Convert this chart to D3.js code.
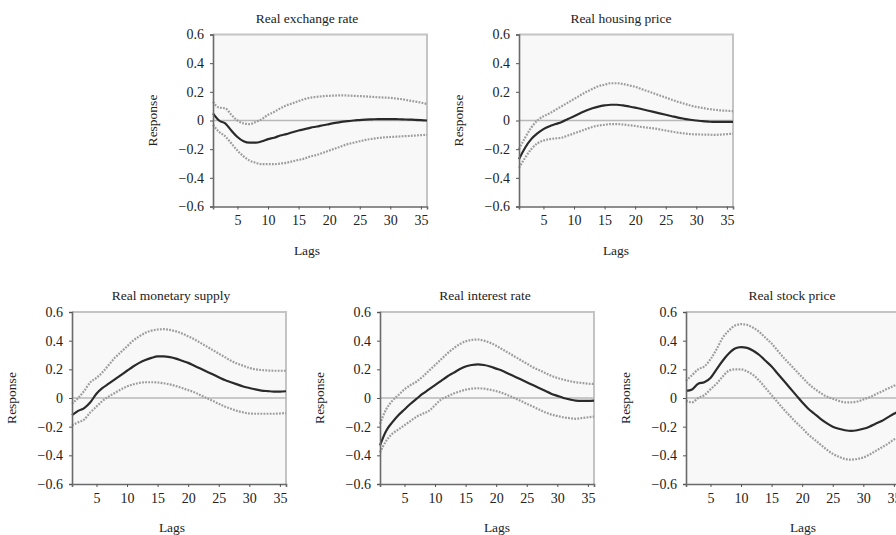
<!DOCTYPE html>
<html>
<head>
<meta charset="utf-8">
<script src="https://cdn.jsdelivr.net/npm/d3@7"></script>
<style>
  body { margin: 0; background: #fff; }
  svg text { font-family: "Liberation Serif", "Times New Roman", Times, serif !important; fill: #222; }
</style>
</head>
<body>
<svg id="chart" width="896" height="535"></svg>
<script>
// impulse responses, lags 1..36
var lags = d3.range(1, 37);
var xTicks = [5, 10, 15, 20, 25, 30, 35];
var yTicks = [0.6, 0.4, 0.2, 0, -0.2, -0.4, -0.6];
var titles = ["Real exchange rate", "Real housing price", "Real monetary supply", "Real interest rate", "Real stock price"];

var exchangeResp = [0.05, 0.0, -0.02, -0.07, -0.115, -0.145, -0.155, -0.155, -0.145, -0.13, -0.12, -0.105, -0.095, -0.082, -0.07, -0.06, -0.05, -0.042, -0.033, -0.025, -0.017, -0.01, -0.005, 0.0, 0.003, 0.006, 0.008, 0.01, 0.01, 0.01, 0.009, 0.008, 0.006, 0.005, 0.003, 0.0];
var exchangeUp = [0.13, 0.09, 0.085, 0.04, 0.0, -0.02, -0.025, -0.01, 0.01, 0.04, 0.06, 0.085, 0.105, 0.12, 0.135, 0.15, 0.16, 0.165, 0.17, 0.172, 0.174, 0.175, 0.174, 0.172, 0.17, 0.168, 0.165, 0.162, 0.16, 0.158, 0.153, 0.148, 0.14, 0.133, 0.125, 0.115];
var exchangeLo = [-0.03, -0.08, -0.11, -0.16, -0.21, -0.25, -0.28, -0.295, -0.305, -0.305, -0.305, -0.3, -0.295, -0.285, -0.275, -0.265, -0.25, -0.24, -0.225, -0.21, -0.195, -0.18, -0.165, -0.155, -0.145, -0.135, -0.128, -0.122, -0.118, -0.115, -0.113, -0.11, -0.108, -0.105, -0.102, -0.1];

var housingResp = [-0.27, -0.19, -0.13, -0.09, -0.06, -0.04, -0.025, -0.01, 0.01, 0.03, 0.05, 0.07, 0.085, 0.097, 0.105, 0.11, 0.11, 0.105, 0.098, 0.09, 0.08, 0.07, 0.06, 0.05, 0.04, 0.03, 0.02, 0.012, 0.005, 0.0, -0.005, -0.008, -0.01, -0.01, -0.01, -0.01];
var housingUp = [-0.2, -0.12, -0.05, 0.0, 0.03, 0.05, 0.075, 0.1, 0.125, 0.15, 0.175, 0.2, 0.22, 0.24, 0.25, 0.26, 0.26, 0.255, 0.245, 0.235, 0.22, 0.205, 0.19, 0.175, 0.16, 0.145, 0.13, 0.118, 0.105, 0.095, 0.088, 0.08, 0.075, 0.07, 0.068, 0.065];
var housingLo = [-0.33, -0.26, -0.2, -0.16, -0.14, -0.13, -0.125, -0.12, -0.105, -0.09, -0.075, -0.06, -0.045, -0.035, -0.03, -0.025, -0.025, -0.028, -0.033, -0.038, -0.045, -0.05, -0.055, -0.062, -0.07, -0.078, -0.085, -0.09, -0.095, -0.097, -0.098, -0.099, -0.1, -0.098, -0.095, -0.092];

var moneyResp = [-0.12, -0.09, -0.07, -0.03, 0.03, 0.07, 0.1, 0.13, 0.16, 0.19, 0.22, 0.245, 0.265, 0.28, 0.29, 0.29, 0.285, 0.275, 0.26, 0.245, 0.225, 0.205, 0.185, 0.165, 0.145, 0.125, 0.11, 0.095, 0.08, 0.07, 0.06, 0.052, 0.048, 0.045, 0.045, 0.047];
var moneyUp = [-0.04, 0.0, 0.05, 0.11, 0.14, 0.18, 0.23, 0.28, 0.32, 0.36, 0.4, 0.43, 0.455, 0.47, 0.478, 0.48, 0.475, 0.465, 0.45, 0.43, 0.41, 0.385, 0.36, 0.335, 0.31, 0.285, 0.26, 0.24, 0.225, 0.21, 0.2, 0.195, 0.192, 0.19, 0.19, 0.19];
var moneyLo = [-0.19, -0.17, -0.15, -0.1, -0.06, -0.02, 0.01, 0.035, 0.06, 0.08, 0.095, 0.105, 0.11, 0.11, 0.108, 0.103, 0.095, 0.083, 0.07, 0.055, 0.04, 0.02, 0.0, -0.02, -0.04, -0.06, -0.075, -0.09, -0.1, -0.108, -0.11, -0.11, -0.11, -0.11, -0.108, -0.105];

var interestResp = [-0.33, -0.23, -0.17, -0.12, -0.08, -0.04, -0.005, 0.03, 0.06, 0.09, 0.12, 0.15, 0.175, 0.2, 0.22, 0.23, 0.235, 0.23, 0.22, 0.205, 0.19, 0.17, 0.15, 0.13, 0.11, 0.09, 0.07, 0.05, 0.03, 0.015, 0.0, -0.01, -0.018, -0.02, -0.02, -0.018];
var interestUp = [-0.18, -0.08, -0.02, 0.02, 0.06, 0.09, 0.115, 0.15, 0.19, 0.23, 0.27, 0.31, 0.345, 0.375, 0.395, 0.405, 0.408, 0.4, 0.385, 0.365, 0.34, 0.315, 0.29, 0.265, 0.24, 0.215, 0.195, 0.175, 0.155, 0.14, 0.128, 0.118, 0.11, 0.105, 0.1, 0.098];
var interestLo = [-0.38, -0.3, -0.25, -0.22, -0.19, -0.16, -0.13, -0.11, -0.09, -0.05, -0.01, 0.01, 0.03, 0.045, 0.058, 0.065, 0.068, 0.065, 0.058, 0.048, 0.035, 0.018, 0.0, -0.02, -0.04, -0.06, -0.08, -0.1, -0.115, -0.125, -0.135, -0.14, -0.145, -0.14, -0.135, -0.13];

var stockResp = [0.05, 0.06, 0.1, 0.11, 0.14, 0.2, 0.26, 0.31, 0.345, 0.355, 0.35, 0.33, 0.3, 0.26, 0.22, 0.17, 0.12, 0.07, 0.02, -0.03, -0.075, -0.11, -0.145, -0.175, -0.2, -0.215, -0.225, -0.23, -0.225, -0.215, -0.2, -0.18, -0.16, -0.135, -0.11, -0.09];
var stockUp = [0.12, 0.16, 0.2, 0.22, 0.27, 0.34, 0.42, 0.47, 0.505, 0.515, 0.51, 0.49, 0.46, 0.42, 0.38, 0.33, 0.28, 0.235, 0.19, 0.145, 0.1, 0.065, 0.035, 0.01, -0.005, -0.02, -0.03, -0.03, -0.025, -0.01, 0.005, 0.025, 0.045, 0.065, 0.085, 0.1];
var stockLo = [-0.02, -0.03, 0.0, 0.02, 0.06, 0.1, 0.15, 0.19, 0.2, 0.2, 0.185, 0.16, 0.12, 0.07, 0.02, -0.03, -0.08, -0.125, -0.17, -0.21, -0.255, -0.29, -0.325, -0.36, -0.39, -0.41, -0.425, -0.43, -0.425, -0.415, -0.395, -0.37, -0.345, -0.32, -0.29, -0.27];

var responses = [exchangeResp, housingResp, moneyResp, interestResp, stockResp];
var uppers = [exchangeUp, housingUp, moneyUp, interestUp, stockUp];
var lowers = [exchangeLo, housingLo, moneyLo, interestLo, stockLo];

// panel placement (plot area top-left) and label centres, relative to plot left
var pw = 214, ph = 172;
var panels = [
    { left: 213, top: 34.5, titleX: 94, lagsX: 94 },
    { left: 519, top: 34.5, titleX: 102, lagsX: 97 },
    { left: 72, top: 312, titleX: 99, lagsX: 100 },
    { left: 380, top: 312, titleX: 105, lagsX: 117 },
    { left: 686, top: 312, titleX: 106, lagsX: 117 }
];

var serif = '"Liberation Serif", "Times New Roman", Times, serif';
var svg = d3.select('#chart');

var x = d3.scaleLinear().domain([1, 36]).range([0, pw]);
var y = d3.scaleLinear().domain([-0.6, 0.6]).range([ph, 0]);

var line = d3.line()
    .x(function (d, i) { return x(lags[i]); })
    .y(function (d) { return y(d); })
    .curve(d3.curveMonotoneX);

var fmt = function (d) { return d === 0 ? '0' : d3.format('.1f')(d); };

panels.forEach(function (p, k) {
    var g = svg.append('g')
        .attr('transform', 'translate(' + p.left + ',' + p.top + ')');

    g.append('rect')
        .attr('width', pw)
        .attr('height', ph)
        .attr('fill', '#f8f8f8');

    // light top and right frame
    g.append('path')
        .attr('d', 'M0,0H' + pw + 'V' + ph)
        .attr('fill', 'none')
        .attr('stroke', '#c4c4c4')
        .attr('stroke-width', 2);

    // zero line
    g.append('line')
        .attr('x1', 0).attr('x2', pw)
        .attr('y1', y(0)).attr('y2', y(0))
        .attr('stroke', '#b8b8b8')
        .attr('stroke-width', 1.6);

    [uppers[k], lowers[k]].forEach(function (band) {
        g.append('path')
            .datum(band)
            .attr('d', line)
            .attr('fill', 'none')
            .attr('stroke', '#9c9c9c')
            .attr('stroke-width', 2.2)
            .attr('stroke-dasharray', '1.8,1.3');
    });

    g.append('path')
        .datum(responses[k])
        .attr('d', line)
        .attr('fill', 'none')
        .attr('stroke', '#2a2a2a')
        .attr('stroke-width', 2.2);

    // axes
    var yAxis = g.append('g')
        .call(d3.axisLeft(y).tickValues(yTicks).tickFormat(fmt).tickSize(3).tickPadding(6));
    var xAxis = g.append('g')
        .attr('transform', 'translate(0,' + ph + ')')
        .call(d3.axisBottom(x).tickValues(xTicks).tickSize(3).tickPadding(6));

    [yAxis, xAxis].forEach(function (a) {
        a.attr('font-family', serif);
        a.select('.domain').attr('stroke', '#6a6a6a').attr('stroke-width', 1.6);
        a.selectAll('.tick line').attr('stroke', '#555');
        a.selectAll('.tick text')
            .style('font-family', serif)
            .style('font-size', '14px')
            .attr('fill', '#222');
    });

    g.append('text')
        .attr('x', p.titleX)
        .attr('y', -12)
        .attr('text-anchor', 'middle')
        .style('font-family', serif)
        .style('font-size', '13.5px')
        .text(titles[k]);

    g.append('text')
        .attr('x', p.lagsX)
        .attr('y', ph + 48)
        .attr('text-anchor', 'middle')
        .style('font-family', serif)
        .style('font-size', '13.5px')
        .text('Lags');

    g.append('text')
        .attr('transform', 'translate(-56,' + (ph / 2) + ') rotate(-90)')
        .attr('text-anchor', 'middle')
        .style('font-family', serif)
        .style('font-size', '13.5px')
        .text('Response');
});
</script>
</body>
</html>
